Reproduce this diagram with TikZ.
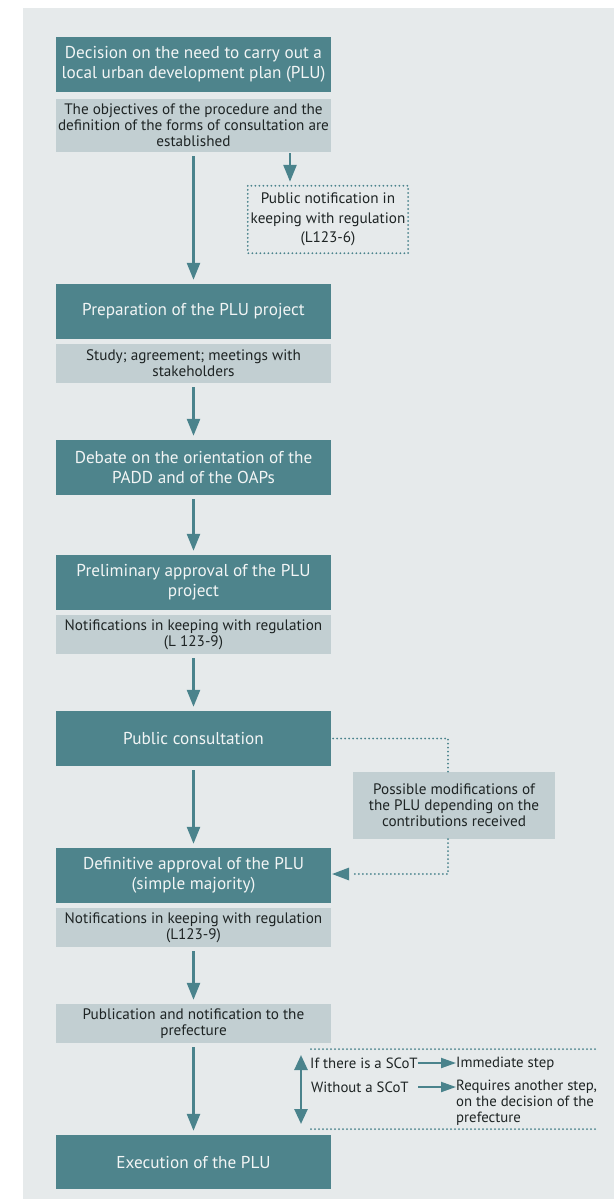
\documentclass[tikz,border=0pt]{standalone}
\usepackage{fontspec}
\setmainfont{PT Sans}
\usetikzlibrary{arrows.meta}

\definecolor{panel}{HTML}{E6EAEB}
\definecolor{stepteal}{HTML}{4E848C}
\definecolor{notecol}{HTML}{C2CFD2}
\definecolor{linecol}{HTML}{4A838C}
\definecolor{hitext}{HTML}{F2F5F5}
\definecolor{lotext}{HTML}{1E2424}

\tikzset{
  mainbox/.style={fill=stepteal, text=hitext, minimum width=275pt, minimum height=55pt,
    inner sep=0pt, align=center, font=\fontsize{17.2}{20}\selectfont},
  notebox/.style={fill=notecol, text=lotext, minimum width=275pt, minimum height=39pt,
    inner sep=0pt, align=center, font=\fontsize{15.2}{16}\selectfont},
  flow/.style={draw=linecol, line width=2.6pt, shorten <=4pt, shorten >=4pt,
    -{Triangle[width=13pt,length=17pt]}},
  dots/.style={draw=linecol, line width=2pt, line cap=round, dash pattern=on 0pt off 4pt},
  plain/.style={text=lotext, inner sep=0pt, font=\fontsize{14.8}{16}\selectfont},
  small/.style={draw=linecol, line width=2pt, -{Triangle[width=10pt,length=15pt]}},
}

\begin{document}
\begin{tikzpicture}[x=1pt, y=-1pt]
  \useasboundingbox (0,0) rectangle (614,1200);
  \fill[panel] (23,8) rectangle (614,1199);

  % main column
  \node[mainbox] (b1) at (193.5,64.5) {Decision on the need to carry out a\\local urban development plan (PLU)};
  \node[notebox, minimum height=53pt] (s1) at (193.5,125.5) {The objectives of the procedure and the\\definition of the forms of consultation are\\established};
  \node[mainbox] (b2) at (193.5,311.5) {Preparation of the PLU project};
  \node[notebox] (s2) at (193.5,363.3) {Study; agreement; meetings with\\stakeholders};
  \node[mainbox] (b3) at (193.5,467.5) {Debate on the orientation of the\\PADD and of the OAPs};
  \node[mainbox] (b4) at (193.5,582.5) {Preliminary approval of the PLU\\project};
  \node[notebox] (s4) at (193.5,634.3) {Notifications in keeping with regulation\\(L 123-9)};
  \node[mainbox] (b5) at (193.5,738.5) {Public consultation};
  \node[mainbox] (b6) at (193.5,875.5) {Definitive approval of the PLU\\(simple majority)};
  \node[notebox] (s6) at (193.5,927.3) {Notifications in keeping with regulation\\(L123-9)};
  \node[notebox] (pub) at (193.5,1023.5) {Publication and notification to the\\prefecture};
  \node[mainbox, minimum height=54pt] (ex) at (193.5,1162) {Execution of the PLU};

  % side notes
  \node[plain, font=\fontsize{15.2}{19.5}\selectfont, minimum width=160pt, minimum height=67pt, align=center] (pn) at (328,219.5)
    {Public notification in\\keeping with regulation\\(L123-6)};
  \draw[dots] (pn.north west) rectangle (pn.south east);
  \node[notebox, minimum width=202pt, minimum height=67pt] (mod) at (454,805.5)
    {Possible modifications of\\the PLU depending on the\\contributions received};

  % main flow
  \draw[flow] (s1) -- (b2);
  \draw[flow] (s2) -- (b3);
  \draw[flow] (b3) -- (b4);
  \draw[flow] (s4) -- (b5);
  \draw[flow] (b5) -- (b6);
  \draw[flow] (s6) -- (pub);
  \draw[flow] (pub) -- (ex);

  % branch to the public notification
  \coordinate (pnx) at (290,0);
  \draw[flow, shorten <=1pt] (s1.south -| pnx) -- (pn.north -| pnx);

  % loop through the possible modifications
  \coordinate (mx) at (448,0);
  \draw[dots] ([xshift=2pt]b5.east) -| (mod.north -| mx);
  \draw[dots] (mod.south -| mx) |- ([xshift=20pt,yshift=1.5pt]b6.east);
  \draw[draw=none, fill=linecol] ([xshift=1pt,yshift=1.5pt]b6.east) -- ++(17,-6.5) -- ++(0,13) -- cycle;

  % SCoT alternatives
  \coordinate (tl) at (311,1049);
  \coordinate (tr) at (597,1049);
  \coordinate (bl) at (311,1129);
  \coordinate (br) at (597,1129);
  \draw[dots] (tl) -- (tr);
  \draw[dots] (bl) -- (br);
  \coordinate (up) at (301,1055);
  \coordinate (dn) at (301,1124);
  \draw[draw=linecol, line width=2.6pt, {Triangle[width=13pt,length=15pt]}-{Triangle[width=13pt,length=15pt]}] (up) -- (dn);

  \node[plain, anchor=west] (ifs) at (310,1063) {If there is a SCoT};
  \node[plain, anchor=west] (imm) at (456,1064) {Immediate step};
  \node[plain, anchor=west] (wo) at (311,1087) {Without a SCoT};
  \node[plain, anchor=north west, align=left] (req) at (456,1080)
    {Requires another step,\\on the decision of the\\prefecture};
  \coordinate (ax) at (418,0);
  \draw[small] (ifs.east -| ax) -- (imm.west |- ifs.east);
  \draw[small] (wo.east -| ax) -- (req.west |- wo.east);
\end{tikzpicture}
\end{document}
